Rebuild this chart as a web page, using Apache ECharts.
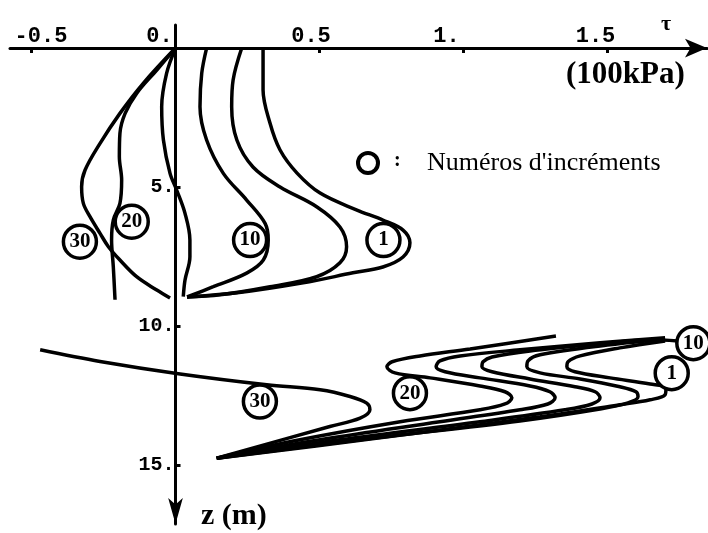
<!DOCTYPE html>
<html>
<head>
<meta charset="utf-8">
<script src="https://cdn.jsdelivr.net/npm/echarts@6/dist/echarts.min.js"></script>
<style>
  html, body { margin: 0; padding: 0; background: #fff; }
  #chart { width: 708px; height: 533px; }
</style>
</head>
<body>
<div id="chart"></div>
<script>
// Shear stress profiles tau (100 kPa) against depth z (m), per loading increment.
const xTicks = [-0.5, 0, 0.5, 1, 1.5];
const xTickText = ['-0.5', '0.', '0.5', '1.', '1.5'];
const zTicks = [5, 10, 15];
const zTickText = ['5.', '10.', '15.'];

// Upper layer (z 0 - 9 m), points are [tau, z]
const upper1 = [[0.304,0],[0.304,1.51],[0.328,2.70],[0.363,3.67],[0.422,4.50],[0.502,5.22],[0.630,5.83],[0.720,6.19],[0.790,6.55],[0.814,7.01],[0.790,7.52],[0.720,7.88],[0.616,8.09],[0.443,8.45],[0.214,8.81],[0.040,8.96]];
const upper5 = [[0.230,0],[0.200,1.15],[0.195,2.11],[0.213,3.31],[0.269,4.28],[0.363,5.00],[0.490,5.71],[0.571,6.44],[0.594,7.15],[0.571,7.73],[0.490,8.23],[0.328,8.59],[0.155,8.88],[0.040,8.96]];
const upper10 = [[0.108,0],[0.091,0.91],[0.085,2.11],[0.108,3.31],[0.166,4.51],[0.247,5.47],[0.311,6.31],[0.322,6.91],[0.305,7.63],[0.247,8.10],[0.131,8.59],[0.040,8.96]];
const upper15 = [[0,0],[-0.031,0.91],[-0.048,2.11],[-0.042,3.31],[-0.019,4.51],[0.004,5.11],[0.033,5.95],[0.050,6.91],[0.050,7.51],[0.033,8.35],[0.027,8.95]];
const upper20 = [[0,0],[-0.065,0.79],[-0.135,1.63],[-0.175,2.35],[-0.193,3.07],[-0.195,3.91],[-0.187,4.75],[-0.193,5.59],[-0.216,6.19],[-0.222,6.91],[-0.216,7.87],[-0.210,9.06]];
const upper30 = [[0,0],[-0.112,1.27],[-0.193,2.35],[-0.262,3.43],[-0.314,4.39],[-0.326,4.99],[-0.320,5.59],[-0.297,6.07],[-0.262,6.67],[-0.233,7.15],[-0.193,7.63],[-0.135,8.23],[-0.065,8.71],[-0.019,9.00]];

// Lower layer (z 10 - 15 m)
const lower1 = [[1.700,10.54],[1.543,10.79],[1.405,11.08],[1.363,11.29],[1.359,11.47],[1.387,11.65],[1.509,11.87],[1.648,12.09],[1.703,12.23],[1.700,12.48],[1.648,12.66],[1.543,12.84],[1.266,13.27],[0.710,14.03],[0.143,14.76]];
const lower5 = [[1.700,10.47],[1.509,10.68],[1.266,11.04],[1.224,11.26],[1.220,11.47],[1.266,11.69],[1.405,11.91],[1.543,12.19],[1.599,12.37],[1.606,12.55],[1.571,12.77],[1.474,12.99],[1.196,13.42],[0.641,14.10],[0.143,14.76]];
const lower10 = [[1.745,10.54],[1.648,10.50],[1.474,10.65],[1.231,10.90],[1.099,11.12],[1.068,11.29],[1.064,11.47],[1.099,11.65],[1.231,11.91],[1.387,12.19],[1.457,12.37],[1.474,12.59],[1.446,12.81],[1.352,13.02],[1.057,13.45],[0.571,14.10],[0.143,14.76]];
const lower15 = [[1.700,10.43],[1.474,10.61],[1.196,10.86],[0.988,11.08],[0.918,11.26],[0.905,11.47],[0.936,11.65],[1.057,11.87],[1.231,12.16],[1.300,12.37],[1.318,12.59],[1.293,12.81],[1.196,13.02],[0.918,13.45],[0.502,14.10],[0.143,14.76]];
const lower20 = [[1.321,10.36],[1.023,10.83],[0.849,11.08],[0.752,11.29],[0.734,11.47],[0.762,11.69],[0.884,11.87],[1.057,12.16],[1.144,12.37],[1.168,12.59],[1.144,12.81],[1.057,13.02],[0.780,13.45],[0.432,14.10],[0.143,14.76]];
const lower30 = [[-0.470,10.86],[-0.262,11.28],[0.016,11.73],[0.317,12.12],[0.502,12.30],[0.606,12.54],[0.664,12.78],[0.675,13.02],[0.641,13.32],[0.536,13.62],[0.143,14.76]];

// Increment numbers written in circles
const incText = ['1', '10', '20', '30', '30', '20', '10', '1'];
const incTau = [0.722, 0.259, -0.152, -0.332, 0.293, 0.814, 1.798, 1.723];
const incZ = [6.91, 6.91, 6.25, 6.97, 12.72, 12.42, 10.62, 11.70];

const curves = [upper1, upper5, upper10, upper15, upper20, upper30,
                lower1, lower5, lower10, lower15, lower20, lower30];

const mono = '"Liberation Mono", "DejaVu Sans Mono", monospace';
const serif = '"Liberation Serif", "DejaVu Serif", serif';

const TAU_MIN = -0.5747, TAU_MAX = 1.8455;
const Z_MIN = -0.83, Z_MAX = 17.13;
const GRID = { left: 10, top: 25, width: 697, height: 499 };
// pixel offsets that put each axis on the other axis' zero
const yAxisShift = -(0 - TAU_MIN) / (TAU_MAX - TAU_MIN) * GRID.width;
const xAxisShift = -(0 - Z_MIN) / (Z_MAX - Z_MIN) * GRID.height;

// horizontal nudges of the tick labels (px, + = right)
const xNudge = [9.5, -16, -8.5, -17, -12];
const rich = {};
xTickText.forEach((t, i) => {
  const s = xNudge[i];
  rich['t' + i] = {
    fontFamily: mono, fontWeight: 'bold', fontSize: 22, color: '#000',
    padding: s > 0 ? [0, 0, 0, 2 * s] : [0, -2 * s, 0, 0]
  };
});

const chart = echarts.init(document.getElementById('chart'), null, { renderer: 'canvas' });

const lineSeries = curves.map(c => ({
  type: 'line', data: c, smooth: 0.35, symbol: 'none', showSymbol: false,
  lineStyle: { color: '#000', width: 3.5 }, z: 2, silent: true
}));

const option = {
  backgroundColor: '#fff',
  animation: false,
  grid: Object.assign({ containLabel: false, outerBoundsMode: 'none' }, GRID),
  xAxis: {
    type: 'value', position: 'top', offset: xAxisShift, min: TAU_MIN, max: TAU_MAX,
    axisLine: { show: true, onZero: false, symbol: ['none', 'arrow'], symbolSize: [14, 22],
      lineStyle: { color: '#000', width: 3 } },
    axisTick: { show: true, customValues: xTicks, inside: true, length: 5,
      lineStyle: { color: '#000', width: 3 } },
    axisLabel: { show: true, customValues: xTicks, margin: 1,
      formatter: (v) => {
        const i = xTicks.findIndex(t => Math.abs(t - v) < 1e-9);
        return i < 0 ? '' : '{t' + i + '|' + xTickText[i] + '}';
      },
      rich: rich },
    splitLine: { show: false }
  },
  yAxis: {
    type: 'value', inverse: true, position: 'left', offset: yAxisShift, min: Z_MIN, max: Z_MAX,
    axisLine: { show: true, onZero: false, symbol: ['arrow', 'none'], symbolSize: [11, 26],
      lineStyle: { color: '#000', width: 3 } },
    axisTick: { show: true, customValues: zTicks, inside: true, length: 5,
      lineStyle: { color: '#000', width: 3 } },
    axisLabel: { show: true, customValues: zTicks, margin: 1,
      fontFamily: mono, fontWeight: 'bold', fontSize: 20, color: '#000',
      formatter: (v) => {
        const i = zTicks.findIndex(t => Math.abs(t - v) < 1e-9);
        return i < 0 ? '' : zTickText[i];
      } },
    splitLine: { show: false }
  },
  series: lineSeries.concat([{
    type: 'scatter', z: 5, silent: true,
    data: incText.map((t, i) => ({ value: [incTau[i], incZ[i]], name: t })),
    symbol: 'circle', symbolSize: 33,
    itemStyle: { color: '#fff', borderColor: '#000', borderWidth: 3.5, opacity: 1 },
    label: { show: true, position: 'inside', formatter: (p) => p.name,
      fontFamily: serif, fontWeight: 'bold', fontSize: 21, color: '#000' }
  }]),
  graphic: [
    { type: 'text', left: 661, top: 13, silent: true,
      style: { text: 'τ', font: 'bold 22px ' + serif, fill: '#000' } },
    { type: 'text', left: 566, top: 59, silent: true,
      style: { text: '(100kPa)', font: 'bold 31px ' + serif, fill: '#000' } },
    { type: 'circle', silent: true, shape: { cx: 368, cy: 163, r: 10 },
      style: { fill: 'none', stroke: '#000', lineWidth: 4 } },
    { type: 'text', left: 394, top: 151, silent: true,
      style: { text: ':', font: 'bold 20px ' + serif, fill: '#000' } },
    { type: 'text', left: 427, top: 150, silent: true,
      style: { text: "Numéros d'incréments", font: '26px ' + serif, fill: '#000' } },
    { type: 'text', left: 201, top: 501, silent: true,
      style: { text: 'z (m)', font: 'bold 30px ' + serif, fill: '#000' } }
  ]
};

chart.setOption(option);
</script>
</body>
</html>
